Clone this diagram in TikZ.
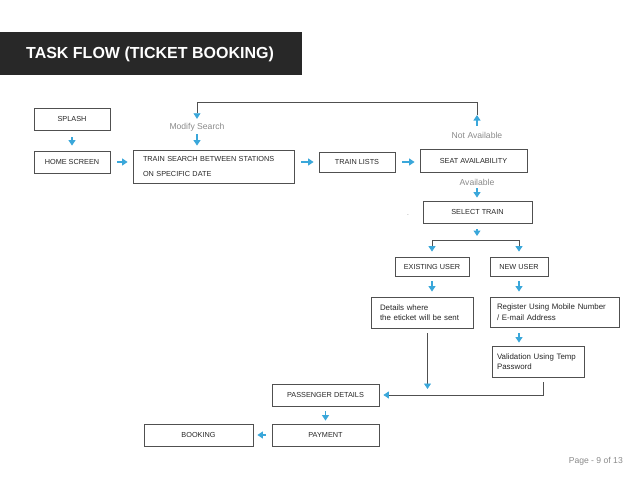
\documentclass[tikz,border=0pt]{standalone}
\usepackage{fontspec}
\setmainfont{Liberation Sans}
\usetikzlibrary{arrows.meta}
\definecolor{titlebar}{HTML}{282828}
\definecolor{flowblue}{HTML}{3AA7DA}
\definecolor{framegrey}{HTML}{505050}
\definecolor{notegrey}{HTML}{8A8A8A}
\definecolor{textgrey}{HTML}{262626}
\begin{document}
\begin{tikzpicture}[x=1pt,y=-1pt]
    \newcommand{\capsize}{\fontsize{7.3}{8.8}\selectfont}
    \newcommand{\lowsize}{\fontsize{7.9}{10.5}\selectfont}

    % set the styles of the boxes and the arrows
    \tikzset{
        stepbox/.style={
            draw=framegrey,
            line width=0.8pt,
            text=textgrey,
            font=\capsize,
            inner sep=0pt,
            minimum height=22pt
            },
        notebox/.style={
            stepbox,
            font=\lowsize,
            align=left,
            minimum height=31pt
            },
        note/.style={text=notegrey, font=\fontsize{8.6}{10}\selectfont, inner sep=1pt},
        stub/.style={
            draw=flowblue,
            line width=1.1pt,
            -{Triangle[width=7pt,length=5.5pt]},
            shorten <=7pt,
            shorten >=5pt
            },
        link/.style={
            draw=framegrey,
            line width=0.8pt,
            -{Triangle[width=7pt,length=5.5pt,color=flowblue]}
            }
    }

    \useasboundingbox (0,0) rectangle (638,479);

    % title bar
    \fill[titlebar] (0,32) rectangle (302,75);
    \node[font=\fontsize{16}{18}\selectfont\bfseries, text=white] (title) at (150,54) {TASK FLOW (TICKET BOOKING)};

    % boxes
    \node[stepbox, minimum width=76pt] (splash) at (72,119) {SPLASH};
    \node[stepbox, minimum width=76pt] (home) at (72,162) {HOME SCREEN};
    \node[stepbox, minimum height=33pt, text width=141pt, inner xsep=10pt, align=left,
          font=\fontsize{7.3}{15}\selectfont] (search) at (213.5,166.5) {TRAIN SEARCH BETWEEN STATIONS\\ON SPECIFIC DATE};
    \node[stepbox, minimum width=76pt, minimum height=20pt] (lists) at (357,162) {TRAIN LISTS};
    \node[stepbox, minimum width=107pt, minimum height=23pt] (seat) at (473.5,160.5) {SEAT AVAILABILITY};
    \node[stepbox, minimum width=109pt] (select) at (477.5,212) {SELECT TRAIN};
    \node[stepbox, minimum width=74pt, minimum height=19pt] (exist) at (432,266.5) {EXISTING USER};
    \node[stepbox, minimum width=58pt, minimum height=19pt] (newuser) at (519,266.5) {NEW USER};
    \node[notebox, text width=84pt, inner xsep=9pt] (details) at (422,312.5) {Details where\\the eticket will be sent};
    \node[notebox, text width=115pt, inner xsep=7pt, minimum height=30pt] (register) at (554.5,312) {Register Using Mobile Number\\/ E-mail Address};
    \node[notebox, text width=83pt, inner xsep=4.5pt] (valid) at (538.5,361.5) {Validation Using Temp\\Password};
    \node[stepbox, minimum width=107pt] (passenger) at (325.5,395) {PASSENGER DETAILS};
    \node[stepbox, minimum width=107pt] (payment) at (325.5,435) {PAYMENT};
    \node[stepbox, minimum width=109pt] (booking) at (198.5,435) {BOOKING};

    % grey labels
    \node[note] (modify) at (197,127) {Modify Search};
    \node[note] (notavail) at (477,135) {Not Available};
    \node[note] (avail) at (477,182) {Available};
    \node[note, font=\fontsize{5}{6}\selectfont] (dash) at (408,216) {-};
    \node[note, anchor=east] (page) at (624,461) {Page - 9 of 13};

    % corners of the connectors
    \coordinate (na) at (477,115);
    \coordinate (loopR) at (477,102);
    \coordinate (loopL) at (197,102);
    \coordinate (split) at (477,240);

    % top row
    \draw[stub] (splash) -- (home);
    \draw[stub] (home) -- (home -| search.west);
    \draw[stub] (search.east |- lists) -- (lists);
    \draw[stub] (lists) -- (lists -| seat.west);

    % modify search loop
    \draw[stub, shorten <=5pt, shorten >=0pt] (notavail) -- (na);
    \draw[link, shorten >=3pt] (na) -- (loopR) -- (loopL) -- (modify.north);
    \draw[stub, shorten <=2pt, shorten >=4pt] (modify) -- (modify |- search.north);

    % selecting a train
    \draw[stub, shorten <=2pt, shorten >=3pt] (avail) -- (avail |- select.north);
    \draw[stub, shorten <=6pt, shorten >=4pt] (select.south -| split) -- (split);
    \draw[link, shorten >=5pt] (split) -| (exist.north);
    \draw[link, shorten >=5pt] (split) -| (newuser.north);

    % user details
    \draw[stub, shorten <=5pt] (exist) -- (exist |- details.north);
    \draw[stub, shorten <=5pt] (newuser) -- (newuser |- register.north);
    \draw[stub, shorten <=6pt, shorten >=3pt] (register.south -| newuser) -- (valid.north -| newuser);
    \draw[link, shorten <=5pt, shorten >=6pt] ([xshift=5.5pt]details.south) -- ([xshift=5.5pt]details.south |- passenger.east);
    \draw[link, shorten <=5pt, shorten >=4pt] ([xshift=4.5pt]valid.south) |- (passenger.east);

    % payment
    \draw[stub, shorten <=5pt, shorten >=3pt] (passenger) -- (payment);
    \draw[stub, shorten <=6pt, shorten >=4pt] (payment) -- (booking);
\end{tikzpicture}
\end{document}
